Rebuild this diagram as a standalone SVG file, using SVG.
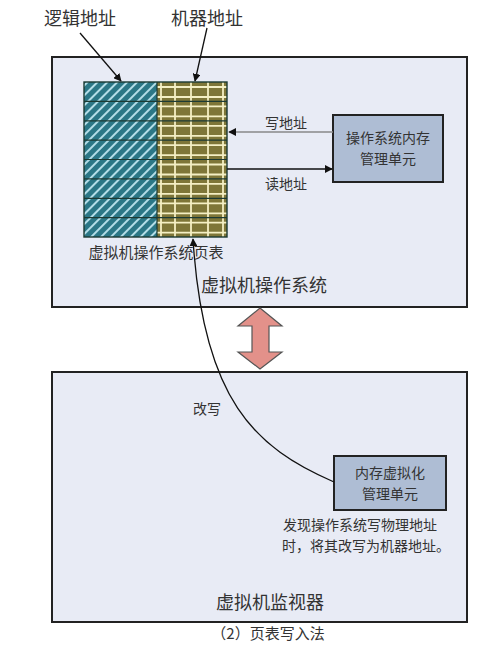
<svg xmlns="http://www.w3.org/2000/svg" width="502" height="664" viewBox="0 0 502 664">
<defs>
<style>
.t{font-family:"Noto Sans CJK SC","Liberation Sans",sans-serif;fill:#333;}
.box{fill:#e8ebf5;stroke:#222;stroke-width:2;}
.unit{fill:#aebdd4;stroke:#222;stroke-width:2;}
.ln{fill:none;stroke:#111;stroke-width:1.3;}
.cream{stroke:#f4efc4;stroke-width:1.8;}
.row{stroke:#1c3a33;stroke-width:1.2;}
</style>
<pattern id="hatch" width="7" height="7" patternUnits="userSpaceOnUse" patternTransform="rotate(45)">
<rect width="7" height="7" fill="#2b7786"/>
<line x1="1" y1="0" x2="1" y2="7" stroke="#c3e9f2" stroke-width="1.8"/>
</pattern>
<marker id="ah" viewBox="0 0 10 10" refX="9" refY="5" markerWidth="8" markerHeight="8" orient="auto" markerUnits="userSpaceOnUse">
<path d="M0,0 L10,5 L0,10 z" fill="#111"/>
</marker>
</defs>
<rect width="502" height="664" fill="#fff"/>

<g id="os-box">
<rect class="box" x="52" y="57" width="415" height="250"/>
<text class="t" x="264" y="292" font-size="18" text-anchor="middle">虚拟机操作系统</text>
</g>

<g id="vmm-box">
<rect class="box" x="52" y="372" width="415" height="250"/>
<text class="t" x="270" y="609" font-size="18" text-anchor="middle">虚拟机监视器</text>
</g>

<g id="page-table">
<rect x="84" y="82" width="73" height="155" fill="url(#hatch)"/>
<rect x="157" y="82" width="70" height="155" fill="#7e7638"/>
<g class="cream">
<line x1="161" y1="82" x2="161" y2="237"/>
<line x1="175" y1="82" x2="175" y2="237"/>
<line x1="191" y1="82" x2="191" y2="237"/>
<line x1="208" y1="82" x2="208" y2="237"/>
<line x1="223" y1="82" x2="223" y2="237"/>
<line x1="157" y1="87" x2="227" y2="87"/><line x1="157" y1="97" x2="227" y2="97"/>
<line x1="157" y1="106.4" x2="227" y2="106.4"/><line x1="157" y1="116.4" x2="227" y2="116.4"/>
<line x1="157" y1="125.8" x2="227" y2="125.8"/><line x1="157" y1="135.8" x2="227" y2="135.8"/>
<line x1="157" y1="145.1" x2="227" y2="145.1"/><line x1="157" y1="155.1" x2="227" y2="155.1"/>
<line x1="157" y1="164.5" x2="227" y2="164.5"/><line x1="157" y1="174.5" x2="227" y2="174.5"/>
<line x1="157" y1="183.9" x2="227" y2="183.9"/><line x1="157" y1="193.9" x2="227" y2="193.9"/>
<line x1="157" y1="203.3" x2="227" y2="203.3"/><line x1="157" y1="213.3" x2="227" y2="213.3"/>
<line x1="157" y1="222.6" x2="227" y2="222.6"/><line x1="157" y1="232.6" x2="227" y2="232.6"/>
</g>
<g class="row">
<line x1="84" y1="101.4" x2="227" y2="101.4"/>
<line x1="84" y1="120.8" x2="227" y2="120.8"/>
<line x1="84" y1="140.1" x2="227" y2="140.1"/>
<line x1="84" y1="159.5" x2="227" y2="159.5"/>
<line x1="84" y1="178.9" x2="227" y2="178.9"/>
<line x1="84" y1="198.3" x2="227" y2="198.3"/>
<line x1="84" y1="217.6" x2="227" y2="217.6"/>
<line x1="157" y1="82" x2="157" y2="237"/>
</g>
<rect x="84" y="82" width="143" height="155" fill="none" stroke="#1c3a33" stroke-width="1.4"/>
<text class="t" x="156" y="258" font-size="15" text-anchor="middle">虚拟机操作系统页表</text>
</g>

<g id="os-mmu">
<rect class="unit" x="333" y="115" width="110" height="67"/>
<text class="t" x="388" y="143" font-size="14" text-anchor="middle">操作系统内存</text>
<text class="t" x="388" y="164" font-size="14" text-anchor="middle">管理单元</text>
</g>

<g id="vmmu">
<rect class="unit" x="334" y="456" width="112" height="54"/>
<text class="t" x="390" y="478" font-size="14" text-anchor="middle">内存虚拟化</text>
<text class="t" x="390" y="499" font-size="14" text-anchor="middle">管理单元</text>
</g>

<g id="labels">
<text class="t" x="80" y="25" font-size="18" text-anchor="middle">逻辑地址</text>
<text class="t" x="207" y="25" font-size="18" text-anchor="middle">机器地址</text>
<text class="t" x="286" y="128" font-size="14" text-anchor="middle">写地址</text>
<text class="t" x="286" y="189" font-size="14" text-anchor="middle">读地址</text>
<text class="t" x="207" y="414" font-size="14" text-anchor="middle">改写</text>
<text class="t" x="283" y="530" font-size="14">发现操作系统写物理地址</text>
<text class="t" x="282" y="551" font-size="14">时，将其改写为机器地址。</text>
<text class="t" x="268" y="639" font-size="15" text-anchor="middle">（2）页表写入法</text>
</g>

<g id="connectors">
<line class="ln" x1="80" y1="33" x2="121" y2="81" marker-end="url(#ah)"/>
<line class="ln" x1="207" y1="28" x2="195" y2="81" marker-end="url(#ah)"/>
<line x1="333" y1="132" x2="229" y2="132" stroke="#888" stroke-width="1.6" marker-end="url(#ah)"/>
<line x1="227" y1="169" x2="332" y2="169" stroke="#111" stroke-width="1.6" marker-end="url(#ah)"/>
<path class="ln" d="M334,482 C255,448 203,400 193,239" marker-end="url(#ah)"/>
<path d="M260,308 L282,326 L269,326 L269,352 L282,352 L260,369 L238,352 L252,352 L252,326 L238,326 Z" fill="#e3918a" stroke="#555" stroke-width="1.2"/>
</g>
</svg>
